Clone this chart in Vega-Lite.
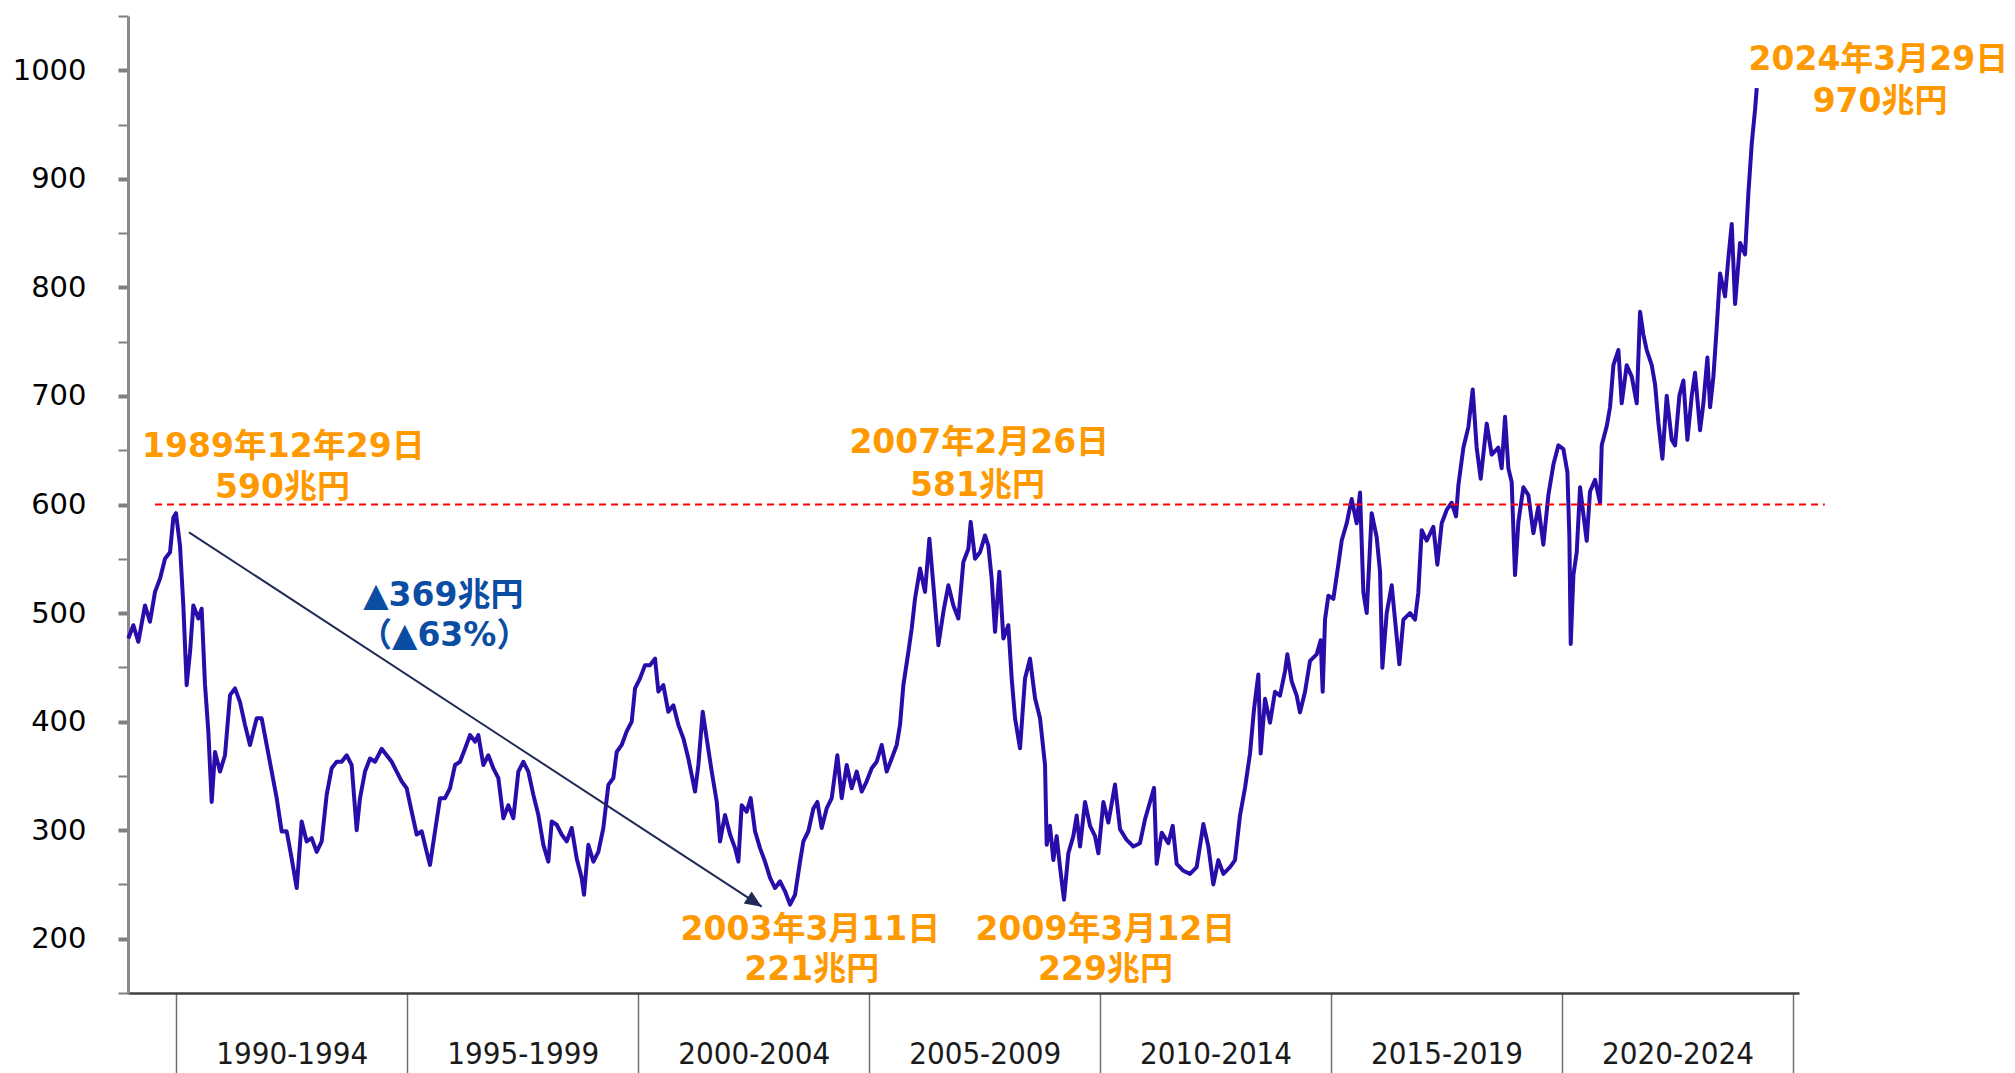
{
  "$schema": "https://vega.github.io/schema/vega-lite/v6.json",
  "width": 1671,
  "height": 977,
  "autosize": {"type": "none"},
  "padding": {"left": 128, "top": 16, "right": 216, "bottom": 80},
  "background": "white",
  "config": {"view": {"stroke": null}},
  "datasets": {
    "series": [
      {"year":1988.961,"value":476.6},{"year":1989.070,"value":488.8},{"year":1989.178,"value":473.5},{"year":1989.322,"value":507},{"year":1989.430,"value":492},{"year":1989.539,"value":519.5},{"year":1989.647,"value":531.7},{"year":1989.755,"value":550},{"year":1989.864,"value":556},{"year":1989.936,"value":588},{"year":1989.993,"value":592},{"year":1990.080,"value":562},{"year":1990.152,"value":507},{"year":1990.224,"value":433.6},{"year":1990.297,"value":464},{"year":1990.369,"value":507},{"year":1990.477,"value":495},{"year":1990.549,"value":504},{"year":1990.621,"value":434},{"year":1990.693,"value":391},{"year":1990.766,"value":326},{"year":1990.838,"value":372},{"year":1990.946,"value":354},{"year":1991.054,"value":369},{"year":1991.163,"value":424.4},{"year":1991.271,"value":430.6},{"year":1991.379,"value":418},{"year":1991.487,"value":397},{"year":1991.595,"value":378.5},{"year":1991.668,"value":391},{"year":1991.740,"value":403},{"year":1991.848,"value":403},{"year":1991.956,"value":378.5},{"year":1992.065,"value":354},{"year":1992.173,"value":329.5},{"year":1992.281,"value":298.8},{"year":1992.389,"value":299},{"year":1992.497,"value":274},{"year":1992.606,"value":246.7},{"year":1992.714,"value":308},{"year":1992.822,"value":289.6},{"year":1992.930,"value":292.7},{"year":1993.039,"value":280},{"year":1993.147,"value":289.6},{"year":1993.255,"value":332.5},{"year":1993.363,"value":357},{"year":1993.472,"value":363},{"year":1993.580,"value":363},{"year":1993.688,"value":369},{"year":1993.796,"value":360},{"year":1993.905,"value":300},{"year":1993.977,"value":329.5},{"year":1994.085,"value":354},{"year":1994.193,"value":366},{"year":1994.302,"value":363},{"year":1994.446,"value":375},{"year":1994.554,"value":369},{"year":1994.663,"value":363},{"year":1994.771,"value":354},{"year":1994.879,"value":345},{"year":1994.987,"value":338.6},{"year":1995.096,"value":317},{"year":1995.204,"value":296},{"year":1995.312,"value":299},{"year":1995.420,"value":280},{"year":1995.492,"value":268},{"year":1995.601,"value":299},{"year":1995.709,"value":329.5},{"year":1995.817,"value":329.5},{"year":1995.925,"value":338.6},{"year":1996.034,"value":360},{"year":1996.142,"value":363},{"year":1996.250,"value":375},{"year":1996.358,"value":387.6},{"year":1996.467,"value":381.6},{"year":1996.539,"value":387.6},{"year":1996.647,"value":360},{"year":1996.755,"value":369},{"year":1996.864,"value":357},{"year":1996.972,"value":348},{"year":1997.080,"value":311},{"year":1997.188,"value":323},{"year":1997.297,"value":311},{"year":1997.405,"value":354},{"year":1997.513,"value":363},{"year":1997.621,"value":354},{"year":1997.730,"value":332.5},{"year":1997.838,"value":314},{"year":1997.946,"value":286.5},{"year":1998.054,"value":271},{"year":1998.127,"value":308},{"year":1998.235,"value":305},{"year":1998.343,"value":296},{"year":1998.451,"value":289.6},{"year":1998.560,"value":302},{"year":1998.668,"value":274},{"year":1998.776,"value":256},{"year":1998.826,"value":240.5},
      {"year":1998.920,"value":286.5},{"year":1999.029,"value":271},{"year":1999.137,"value":280},{"year":1999.245,"value":302},{"year":1999.353,"value":341.7},{"year":1999.462,"value":348},{"year":1999.534,"value":372},{"year":1999.642,"value":378.5},{"year":1999.750,"value":391},{"year":1999.859,"value":400},{"year":1999.931,"value":430.6},{"year":2000.039,"value":439.8},{"year":2000.147,"value":452},{"year":2000.255,"value":452},{"year":2000.364,"value":458},{"year":2000.436,"value":427.6},{"year":2000.544,"value":433.6},{"year":2000.652,"value":409},{"year":2000.761,"value":415},{"year":2000.869,"value":397},{"year":2000.977,"value":384.6},{"year":2001.085,"value":366},{"year":2001.230,"value":335.6},{"year":2001.302,"value":360},{"year":2001.396,"value":409},{"year":2001.482,"value":384.6},{"year":2001.591,"value":354},{"year":2001.699,"value":326.4},{"year":2001.771,"value":289.6},{"year":2001.879,"value":314},{"year":2001.988,"value":296},{"year":2002.096,"value":283.5},{"year":2002.168,"value":271},{"year":2002.240,"value":323},{"year":2002.348,"value":317},{"year":2002.435,"value":329.5},{"year":2002.529,"value":299},{"year":2002.637,"value":283.5},{"year":2002.745,"value":271},{"year":2002.854,"value":256},{"year":2002.962,"value":246.7},{"year":2003.070,"value":252.9},{"year":2003.178,"value":243.7},{"year":2003.287,"value":231.4},{"year":2003.395,"value":240.5},{"year":2003.503,"value":271},{"year":2003.575,"value":289.6},{"year":2003.683,"value":299},{"year":2003.792,"value":320},{"year":2003.878,"value":326},{"year":2003.972,"value":302},{"year":2004.080,"value":320},{"year":2004.189,"value":329.5},{"year":2004.311,"value":369},{"year":2004.405,"value":329.5},{"year":2004.513,"value":360},{"year":2004.622,"value":338.6},{"year":2004.730,"value":354},{"year":2004.838,"value":335.6},{"year":2004.946,"value":345},{"year":2005.055,"value":357},{"year":2005.163,"value":363},{"year":2005.271,"value":378.5},{"year":2005.379,"value":354},{"year":2005.488,"value":366},{"year":2005.596,"value":378.5},{"year":2005.668,"value":397},{"year":2005.740,"value":433.6},{"year":2005.848,"value":464},{"year":2005.921,"value":485.7},{"year":2005.993,"value":513.4},{"year":2006.101,"value":541},{"year":2006.209,"value":519.5},{"year":2006.303,"value":568.5},{"year":2006.390,"value":525.6},{"year":2006.498,"value":470.4},{"year":2006.606,"value":501},{"year":2006.714,"value":525.6},{"year":2006.823,"value":507},{"year":2006.931,"value":495},{"year":2007.039,"value":547},{"year":2007.147,"value":559},{"year":2007.198,"value":584},{"year":2007.292,"value":550},{"year":2007.400,"value":556},{"year":2007.508,"value":571.5},{"year":2007.580,"value":562},{"year":2007.652,"value":531.7},{"year":2007.725,"value":482.7},{"year":2007.818,"value":538},{"year":2007.905,"value":476.6},{"year":2008.013,"value":488.8},{"year":2008.085,"value":439.8},{"year":2008.158,"value":403},{"year":2008.266,"value":375.4},{"year":2008.374,"value":439.8},{"year":2008.482,"value":458},{"year":2008.591,"value":421.5},{"year":2008.699,"value":403},{"year":2008.807,"value":360},{"year":2008.843,"value":286.5},
      {"year":2008.915,"value":304},{"year":2008.987,"value":272.4},{"year":2009.059,"value":294.5},{"year":2009.131,"value":266},{"year":2009.218,"value":236},{"year":2009.312,"value":278.7},{"year":2009.420,"value":294.5},{"year":2009.492,"value":313.5},{"year":2009.565,"value":285},{"year":2009.673,"value":326},{"year":2009.781,"value":304},{"year":2009.889,"value":294.5},{"year":2009.962,"value":278.7},{"year":2010.070,"value":326},{"year":2010.178,"value":307},{"year":2010.322,"value":342},{"year":2010.430,"value":301},{"year":2010.575,"value":291},{"year":2010.719,"value":285},{"year":2010.863,"value":288},{"year":2010.972,"value":310},{"year":2011.080,"value":326},{"year":2011.167,"value":339},{"year":2011.224,"value":269},{"year":2011.333,"value":297.7},{"year":2011.477,"value":288},{"year":2011.571,"value":304},{"year":2011.657,"value":269},{"year":2011.802,"value":262.6},{"year":2011.946,"value":259.7},{"year":2012.090,"value":266},{"year":2012.235,"value":305.6},{"year":2012.343,"value":285},{"year":2012.451,"value":250},{"year":2012.559,"value":272.4},{"year":2012.668,"value":259.7},{"year":2012.812,"value":266},{"year":2012.920,"value":272.4},{"year":2013.028,"value":313.5},{"year":2013.137,"value":339},{"year":2013.245,"value":370.6},{"year":2013.332,"value":411.7},{"year":2013.425,"value":443.4},{"year":2013.476,"value":370.6},{"year":2013.570,"value":421},{"year":2013.678,"value":399},{"year":2013.786,"value":427.5},{"year":2013.894,"value":424},{"year":2014.003,"value":446.5},{"year":2014.053,"value":462},{"year":2014.147,"value":437},{"year":2014.255,"value":424},{"year":2014.327,"value":408.5},{"year":2014.436,"value":427.5},{"year":2014.544,"value":456},{"year":2014.688,"value":462},{"year":2014.775,"value":475},{"year":2014.818,"value":427.5},{"year":2014.869,"value":494},{"year":2014.941,"value":516},{"year":2015.049,"value":513},{"year":2015.157,"value":544.6},{"year":2015.230,"value":566.8},{"year":2015.338,"value":582.7},{"year":2015.446,"value":605},{"year":2015.554,"value":582.7},{"year":2015.627,"value":611},{"year":2015.699,"value":519},{"year":2015.771,"value":500},{"year":2015.879,"value":592},{"year":2015.987,"value":570},{"year":2016.060,"value":538},{"year":2016.110,"value":449.6},{"year":2016.204,"value":500},{"year":2016.312,"value":525.6},{"year":2016.384,"value":494},{"year":2016.478,"value":452.8},{"year":2016.565,"value":494},{"year":2016.709,"value":500},{"year":2016.817,"value":494},{"year":2016.889,"value":519},{"year":2016.962,"value":576.3},{"year":2017.070,"value":566.8},{"year":2017.214,"value":579.5},{"year":2017.301,"value":544.6},{"year":2017.395,"value":582.7},{"year":2017.503,"value":595},{"year":2017.611,"value":601.6},{"year":2017.705,"value":589},{"year":2017.755,"value":617.4},{"year":2017.864,"value":652.3},{"year":2017.972,"value":671.3},{"year":2018.066,"value":706},{"year":2018.152,"value":652.3},{"year":2018.239,"value":623.8},{"year":2018.369,"value":674.5},{"year":2018.477,"value":646},{"year":2018.621,"value":652.3},{"year":2018.693,"value":633.4},{"year":2018.766,"value":680.8},{"year":2018.838,"value":633.4},{"year":2018.910,"value":620.6},{"year":2018.982,"value":535},
      {"year":2019.055,"value":584},{"year":2019.163,"value":615.8},{"year":2019.271,"value":608.7},{"year":2019.380,"value":573.6},{"year":2019.488,"value":598},{"year":2019.596,"value":563},{"year":2019.704,"value":608.7},{"year":2019.813,"value":636.8},{"year":2019.921,"value":654.5},{"year":2020.029,"value":651},{"year":2020.116,"value":629.8},{"year":2020.159,"value":570},{"year":2020.188,"value":471.5},{"year":2020.246,"value":535},{"year":2020.318,"value":556},{"year":2020.390,"value":615.8},{"year":2020.462,"value":591},{"year":2020.534,"value":566.5},{"year":2020.606,"value":612},{"year":2020.715,"value":622.8},{"year":2020.823,"value":601.6},{"year":2020.859,"value":654.5},{"year":2020.967,"value":672},{"year":2021.039,"value":689.6},{"year":2021.112,"value":728.3},{"year":2021.220,"value":742.3},{"year":2021.292,"value":693.2},{"year":2021.400,"value":728.3},{"year":2021.509,"value":717.8},{"year":2021.617,"value":693.2},{"year":2021.689,"value":777.6},{"year":2021.761,"value":756.5},{"year":2021.833,"value":742.3},{"year":2021.942,"value":728.3},{"year":2022.014,"value":710.8},{"year":2022.086,"value":675.6},{"year":2022.173,"value":642.2},{"year":2022.266,"value":700.2},{"year":2022.374,"value":659.6},{"year":2022.447,"value":654.5},{"year":2022.540,"value":700.2},{"year":2022.627,"value":714.3},{"year":2022.714,"value":659.6},{"year":2022.808,"value":700.2},{"year":2022.880,"value":721.3},{"year":2022.988,"value":668.5},{"year":2023.060,"value":693.2},{"year":2023.147,"value":735.4},{"year":2023.205,"value":689.6},{"year":2023.277,"value":717.8},{"year":2023.349,"value":763.5},{"year":2023.421,"value":812.8},{"year":2023.529,"value":791.7},{"year":2023.601,"value":826.9},{"year":2023.674,"value":858.5},{"year":2023.746,"value":784.7},{"year":2023.854,"value":841},{"year":2023.962,"value":830.4},{"year":2024.034,"value":886.7},{"year":2024.107,"value":932.4},{"year":2024.179,"value":964},{"year":2024.215,"value":983.5}
    ],
    "refline": [{"year": 1989.539, "year2": 2025.69, "value": 600}],
    "arrow": [{"year": 1990.275, "value": 574.4, "year2": 2002.674, "value2": 229.5}],
    "arrowhead": [{"year": 2002.674, "value": 229.5}],
    "labels": [
      {"year": 1992.317, "value": 653.3, "label": "1989年12年29日", "kind": "peak"},
      {"year": 1992.299, "value": 614.9, "label": "590兆円", "kind": "peak"},
      {"year": 2007.383, "value": 656.4, "label": "2007年2月26日", "kind": "peak"},
      {"year": 2007.346, "value": 617.2, "label": "581兆円", "kind": "peak"},
      {"year": 2026.848, "value": 1009.5, "label": "2024年3月29日", "kind": "peak"},
      {"year": 2026.885, "value": 971.1, "label": "970兆円", "kind": "peak"},
      {"year": 2003.728, "value": 208.1, "label": "2003年3月11日", "kind": "peak"},
      {"year": 2003.756, "value": 170.9, "label": "221兆円", "kind": "peak"},
      {"year": 2010.115, "value": 208.1, "label": "2009年3月12日", "kind": "peak"},
      {"year": 2010.115, "value": 170.9, "label": "229兆円", "kind": "peak"},
      {"year": 1995.780, "value": 515.9, "label": "▲369兆円", "kind": "drop"},
      {"year": 1995.800, "value": 479.1, "label": "（▲63%）", "kind": "drop"}
    ]
  },
  "layer": [
    {
      "data": {"name": "series"},
      "mark": {"type": "line", "color": "#2a0cab", "strokeWidth": 4, "strokeJoin": "round"},
      "encoding": {
        "x": {
          "field": "year", "type": "quantitative",
          "scale": {"domain": [1988.954, 2025.13], "nice": false, "zero": false},
          "axis": {
            "title": null, "grid": false,
            "values": [1990, 1992.5, 1995, 1997.5, 2000, 2002.5, 2005, 2007.5, 2010, 2012.5, 2015, 2017.5, 2020, 2022.5, 2025],
            "labelExpr": "datum.value % 5 == 0 ? '' : (floor(datum.value) - 2) + '-' + (floor(datum.value) + 2)",
            "tickSize": 80,
            "tickOpacity": {"condition": {"test": "datum.value % 5 != 0", "value": 0}, "value": 1},
            "tickColor": "#707070", "tickWidth": 1.5,
            "domainColor": "#404040", "domainWidth": 2.5,
            "labelFont": "DejaVu Sans Condensed", "labelFontSize": 31, "labelColor": "#1a1a1a",
            "labelPadding": -19, "labelBaseline": "middle", "labelOverlap": false, "labelFlush": false
          }
        },
        "y": {
          "field": "value", "type": "quantitative",
          "scale": {"domain": [150, 1050], "nice": false, "zero": false},
          "axis": {
            "title": null, "grid": false, "format": "d",
            "values": [150, 200, 250, 300, 350, 400, 450, 500, 550, 600, 650, 700, 750, 800, 850, 900, 950, 1000, 1050],
            "labelExpr": "datum.value % 100 == 0 && datum.value >= 200 && datum.value <= 1000 ? datum.label : ''",
            "tickSize": 10,
            "tickWidth": {"condition": {"test": "datum.value % 100 == 0", "value": 4}, "value": 2},
            "tickColor": "#7f7f7f",
            "domainColor": "#8a8a8a", "domainWidth": 3,
            "labelFont": "DejaVu Sans", "labelFontSize": 29, "labelColor": "#000000",
            "labelPadding": 32, "labelBaseline": "middle", "labelOverlap": false
          }
        }
      }
    },
    {
      "data": {"name": "refline"},
      "mark": {"type": "rule", "color": "#ff0000", "strokeWidth": 2, "strokeDash": [7, 5]},
      "encoding": {
        "x": {"field": "year", "type": "quantitative"},
        "x2": {"field": "year2"},
        "y": {"field": "value", "type": "quantitative"}
      }
    },
    {
      "data": {"name": "arrow"},
      "mark": {"type": "rule", "color": "#1f2a56", "strokeWidth": 2},
      "encoding": {
        "x": {"field": "year", "type": "quantitative"},
        "x2": {"field": "year2"},
        "y": {"field": "value", "type": "quantitative"},
        "y2": {"field": "value2"}
      }
    },
    {
      "data": {"name": "arrowhead"},
      "mark": {"type": "point", "shape": "M0,0L-0.45,1.05L0.45,1.05Z", "filled": true, "size": 1024, "angle": 123.2, "color": "#1f2a56", "opacity": 1, "strokeWidth": 0},
      "encoding": {
        "x": {"field": "year", "type": "quantitative"},
        "y": {"field": "value", "type": "quantitative"}
      }
    },
    {
      "data": {"name": "labels"},
      "mark": {"type": "text", "font": "DejaVu Sans, Noto Sans CJK JP", "fontWeight": "bold", "fontSize": 33, "align": "center", "baseline": "middle"},
      "encoding": {
        "x": {"field": "year", "type": "quantitative"},
        "y": {"field": "value", "type": "quantitative"},
        "text": {"field": "label"},
        "color": {"field": "kind", "type": "nominal", "scale": {"domain": ["peak", "drop"], "range": ["#ff9900", "#0a4da2"]}, "legend": null}
      }
    }
  ]
}
